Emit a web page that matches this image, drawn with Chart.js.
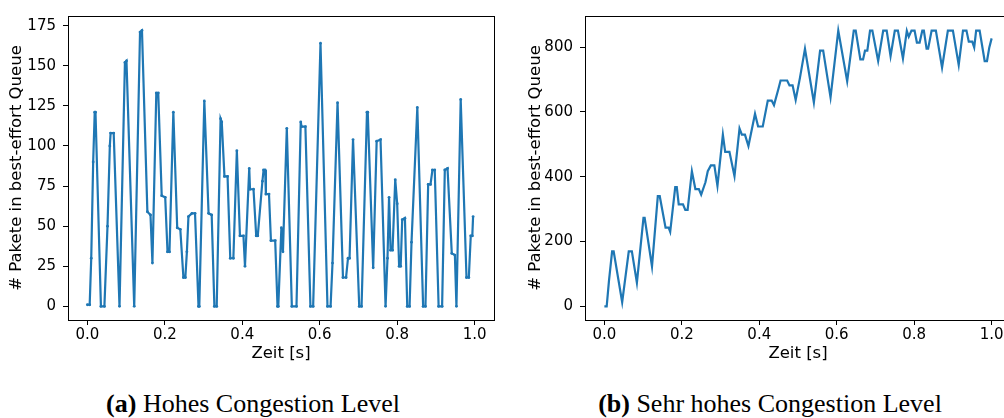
<!DOCTYPE html>
<html>
<head>
<meta charset="utf-8">
<script src="https://cdn.jsdelivr.net/npm/chart.js@4"></script>
<style>
    html, body { margin: 0; padding: 0; width: 1004px; height: 418px; overflow: hidden; background: #fff; }
    canvas { position: absolute; top: 0; }
    #chartA { left: 0; }
    #chartB { left: 500px; }
    .cap {
        position: absolute; top: 389px; white-space: nowrap; color: #000;
        font-family: 'Liberation Serif', 'Times New Roman', serif; font-size: 26px; line-height: 30px;
        transform: translateX(-50%);
    }
</style>
</head>
<body>
<canvas id="chartA" width="500" height="370"></canvas>
<canvas id="chartB" width="520" height="370"></canvas>
<div class="cap" style="left:253px"><b>(a)</b> Hohes Congestion Level</div>
<div class="cap" style="left:770px"><b>(b)</b> Sehr hohes Congestion Level</div>
<script>
/* ─────────────────────────────────────────────
   Data
───────────────────────────────────────────── */
const xTicks = [0, 0.2, 0.4, 0.6, 0.8, 1.0];
const yTicksA = [0, 25, 50, 75, 100, 125, 150, 175];
const yTicksB = [0, 200, 400, 600, 800];

// (a) Hohes Congestion Level
const timeA = [
    0.000, 0.006, 0.010, 0.015, 0.019, 0.021, 0.035, 0.044, 0.052, 0.058, 0.060, 0.068,
    0.083, 0.097, 0.101, 0.121, 0.136, 0.141, 0.155, 0.163, 0.168, 0.178, 0.183, 0.192,
    0.201, 0.207, 0.212, 0.222, 0.232, 0.240, 0.248, 0.253, 0.257, 0.261, 0.270, 0.278,
    0.287, 0.289, 0.302, 0.313, 0.321, 0.328, 0.334, 0.344, 0.347, 0.354, 0.362, 0.369,
    0.377, 0.386, 0.394, 0.403, 0.407, 0.418, 0.420, 0.429, 0.436, 0.440, 0.452, 0.455,
    0.459, 0.461, 0.469, 0.474, 0.485, 0.491, 0.493, 0.501, 0.505, 0.515, 0.528, 0.540,
    0.551, 0.553, 0.563, 0.576, 0.583, 0.602, 0.620, 0.628, 0.633, 0.646, 0.660, 0.668,
    0.673, 0.677, 0.686, 0.702, 0.708, 0.722, 0.724, 0.738, 0.747, 0.757, 0.770, 0.775,
    0.779, 0.783, 0.788, 0.795, 0.800, 0.805, 0.809, 0.813, 0.820, 0.826, 0.832, 0.837,
    0.852, 0.867, 0.873, 0.880, 0.886, 0.891, 0.897, 0.907, 0.916, 0.923, 0.930, 0.941,
    0.949, 0.953, 0.964, 0.979, 0.985, 0.990, 0.994, 0.996
];
const queueA = [
    1, 1, 30, 90, 121, 121, 0, 0, 50, 100, 108, 108,
    0, 152, 153, 0, 171, 172, 59, 57, 27, 133, 133, 69,
    68, 34, 34, 121, 49, 48, 18, 18, 34, 56, 58, 58,
    0, 0, 128, 58, 57, 0, 0, 117, 115, 81, 81, 30,
    30, 97, 44, 44, 25, 86, 73, 73, 44, 44, 78, 85,
    85, 70, 70, 41, 41, 0, 0, 49, 34, 111, 0, 0,
    115, 112, 112, 0, 0, 164, 0, 0, 27, 127, 18, 18,
    30, 30, 104, 0, 0, 121, 121, 24, 103, 104, 0, 30,
    68, 35, 35, 79, 64, 25, 25, 54, 55, 0, 0, 40,
    124, 0, 0, 76, 76, 85, 85, 0, 0, 85, 86, 33,
    32, 0, 129, 18, 18, 44, 44, 56
];

// (b) Sehr hohes Congestion Level
const timeB = [
    0.000, 0.006, 0.012, 0.020, 0.024, 0.046, 0.063, 0.071, 0.084, 0.101, 0.104, 0.123,
    0.138, 0.143, 0.158, 0.166, 0.170, 0.183, 0.187, 0.192, 0.203, 0.209, 0.215, 0.226,
    0.235, 0.244, 0.250, 0.261, 0.267, 0.275, 0.284, 0.292, 0.306, 0.312, 0.323, 0.336,
    0.349, 0.355, 0.363, 0.372, 0.389, 0.397, 0.409, 0.422, 0.432, 0.438, 0.449, 0.455,
    0.472, 0.478, 0.486, 0.494, 0.505, 0.518, 0.541, 0.557, 0.565, 0.584, 0.604, 0.627,
    0.644, 0.649, 0.661, 0.668, 0.673, 0.679, 0.686, 0.692, 0.707, 0.720, 0.729, 0.739,
    0.750, 0.758, 0.771, 0.781, 0.786, 0.793, 0.801, 0.807, 0.814, 0.821, 0.825, 0.832,
    0.836, 0.845, 0.856, 0.872, 0.887, 0.900, 0.915, 0.926, 0.935, 0.941, 0.950, 0.955,
    0.960, 0.969, 0.982, 0.988, 0.994, 1.000
];
const queueB = [
    0, 0, 80, 170, 170, 13, 170, 170, 73, 273, 273, 123,
    340, 340, 243, 243, 230, 368, 368, 315, 315, 298, 298, 417,
    362, 362, 345, 383, 417, 435, 435, 372, 530, 477, 477, 402,
    549, 530, 530, 495, 594, 555, 555, 635, 635, 621, 669, 697,
    697, 682, 682, 637, 705, 795, 629, 789, 789, 645, 851, 695,
    851, 851, 762, 762, 789, 789, 851, 851, 757, 851, 851, 772,
    851, 851, 765, 850, 832, 851, 851, 814, 814, 851, 851, 795,
    795, 851, 851, 737, 851, 851, 745, 851, 851, 817, 817, 799,
    851, 851, 757, 757, 799, 827
];

/* ─────────────────────────────────────────────
   Chart setup
───────────────────────────────────────────── */
const BLUE = '#1f77b4';
const tickFont = { family: "'DejaVu Sans', sans-serif", size: 15 };
const titleFont = { family: "'DejaVu Sans', sans-serif", size: 16.5 };

// matplotlib-style box around the plot area
const framePlugin = {
    id: 'frame',
    afterDraw(chart) {
        const { ctx, chartArea: a } = chart;
        ctx.save();
        ctx.strokeStyle = '#000';
        ctx.lineWidth = 1;
        ctx.strokeRect(Math.round(a.left) + 0.5, Math.round(a.top) + 0.5,
            Math.round(a.right - a.left), Math.round(a.bottom - a.top));
        ctx.restore();
    }
};

function makeChart(id, times, values, opts) {
    return new Chart(document.getElementById(id), {
        type: 'line',
        data: {
            datasets: [{
                data: times.map((t, i) => ({ x: t, y: values[i] })),
                borderColor: BLUE,
                backgroundColor: BLUE,
                borderWidth: opts.lineWidth,
                pointRadius: opts.pointRadius,
                pointBorderWidth: 0,
                tension: 0
            }]
        },
        options: {
            responsive: false,
            animation: false,
            devicePixelRatio: 1,
            layout: { padding: { top: 7, right: opts.padRight, left: 0, bottom: 0 } },
            plugins: { legend: { display: false }, tooltip: { enabled: false } },
            scales: {
                x: {
                    type: 'linear', min: -0.05, max: 1.05,
                    afterBuildTicks: s => { s.ticks = xTicks.map(v => ({ value: v })); },
                    afterFit: s => { s.height = 50; },
                    ticks: { color: '#000', font: tickFont, padding: 1, maxRotation: 0, autoSkip: false,
                        callback: v => v.toFixed(1) },
                    grid: { drawOnChartArea: false, color: '#000', tickLength: 5 },
                    border: { display: false },
                    title: { display: true, text: 'Zeit [s]', color: '#000', font: titleFont,
                        padding: { top: 0, bottom: 6 } }
                },
                y: {
                    type: 'linear', min: opts.yMin, max: opts.yMax,
                    afterBuildTicks: s => { s.ticks = opts.yTicks.map(v => ({ value: v })); },
                    afterFit: s => { s.width = opts.yWidth; },
                    ticks: { color: '#000', font: tickFont, padding: 7, autoSkip: false },
                    grid: { drawOnChartArea: false, color: '#000', tickLength: 5 },
                    border: { display: false },
                    title: { display: true, text: '# Pakete in best-effort Queue', color: '#000', font: titleFont,
                        padding: { top: opts.titlePad, bottom: 0 } }
                }
            }
        },
        plugins: [framePlugin]
    });
}

makeChart('chartA', timeA, queueA, {
    yMin: -8.5, yMax: 181, yTicks: yTicksA, yWidth: 68, titlePad: 7, padRight: 6,
    lineWidth: 2.2, pointRadius: 1.4
});
makeChart('chartB', timeB, queueB, {
    yMin: -42, yMax: 896, yTicks: yTicksB, yWidth: 85, titlePad: 26, padRight: 9,
    lineWidth: 2.2, pointRadius: 0
});
</script>
</body>
</html>
